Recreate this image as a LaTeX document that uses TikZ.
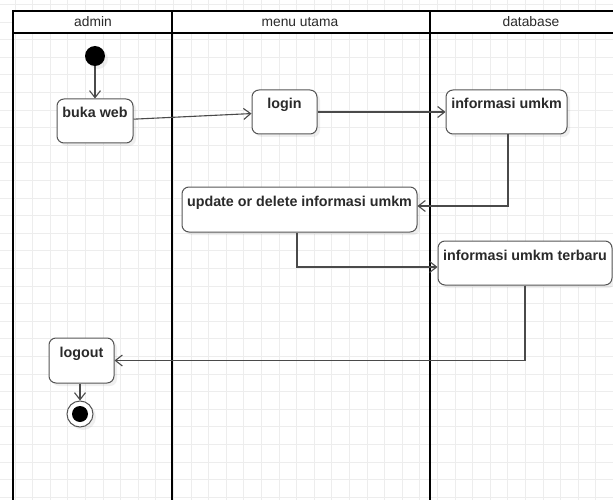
\documentclass[tikz,border=0pt]{standalone}
\usepackage{fontspec}
\setmainfont{Liberation Sans}
\usetikzlibrary{arrows.meta,shadows}
\definecolor{gridc}{HTML}{EDEDED}
\definecolor{edgec}{HTML}{4A4A4A}
\definecolor{boxc}{HTML}{555555}
\definecolor{txtc}{HTML}{2A2A2A}
\begin{document}
\begin{tikzpicture}[x=1pt,y=-1pt,
  lane/.style={line width=2.5pt,black},
  hdr/.style={font=\fontsize{13.8}{15}\selectfont,text=txtc,inner sep=0pt},
  actbox/.style={draw=boxc,line width=1pt,fill=white,rounded corners=7pt,
    inner sep=0pt,text height=19pt,text depth=25pt,align=center,
    font=\fontsize{14.3}{16}\selectfont\bfseries,text=txtc,
    drop shadow={opacity=0.12,shadow xshift=3pt,shadow yshift=-3pt}},
  flow/.style={draw=edgec,line width=1.1pt,-{Straight Barb[length=7pt,width=11pt,line width=1.1pt]}}]
\useasboundingbox (0,0) rectangle (613,500);
\fill[white] (0,0) rectangle (613,500);
% grid
\begin{scope}
\clip (0,0) rectangle (613,500);
\foreach \i in {0,...,35} {
  \draw[gridc,line width=0.9pt] ({15+17.6*\i},0) -- ({15+17.6*\i},500);
}
\foreach \j in {0,...,28} {
  \draw[gridc,line width=0.9pt] (0,{4.5+17.6*\j}) -- (613,{4.5+17.6*\j});
}
% swimlanes
\fill[white] (13,11) rectangle (640,33);
\draw[lane] (13,520) -- (13,11) -- (640,11);
\draw[lane] (13,33) -- (640,33);
\draw[lane] (172,11) -- (172,520);
\draw[lane] (430,11) -- (430,520);
\end{scope}
\node[hdr] (hadmin) at (93,22) {admin};
\node[hdr] (hmenu) at (300,22) {menu utama};
\node[hdr] (hdb) at (531,22) {database};
% start / end
\node[circle,fill=black,minimum size=20pt,inner sep=0pt,
  drop shadow={opacity=0.12,shadow xshift=3pt,shadow yshift=-3pt}] (start) at (95,56) {};
\node[circle,draw=boxc,line width=1pt,fill=white,minimum size=26pt,inner sep=0pt,
  drop shadow={opacity=0.12,shadow xshift=3pt,shadow yshift=-3pt}] (end) at (80,414) {};
\node[circle,fill=black,minimum size=16pt,inner sep=0pt] (endin) at (80,414) {};
% activities
\node[actbox,minimum width=76pt] (buka) at (95,121) {buka web};
\node[actbox,minimum width=65pt] (login) at (284.5,112) {login};
\node[actbox,minimum width=121pt] (info) at (506.5,112) {informasi umkm};
\node[actbox,minimum width=235pt,text depth=26pt] (update) at (299.5,209.5) {update or delete informasi umkm};
\node[actbox,minimum width=174pt] (terbaru) at (525,263) {informasi umkm terbaru};
\node[actbox,minimum width=65pt,text depth=26pt] (logout) at (81.5,360.5) {logout};
% flows
\draw[flow] (start) -- (buka);
\draw[flow] (buka) -- (login);
\draw[flow] (login) -- (info);
\draw[flow] ([xshift=1.5pt]info.south) |- ([yshift=3.5pt]update.east);
\draw[flow] ([xshift=-2.5pt]update.south) |- ([yshift=-4pt]terbaru.west);
\draw[flow] (terbaru) |- (logout);
\draw[flow] (logout.south -| end) -- (end);
\end{tikzpicture}
\end{document}
